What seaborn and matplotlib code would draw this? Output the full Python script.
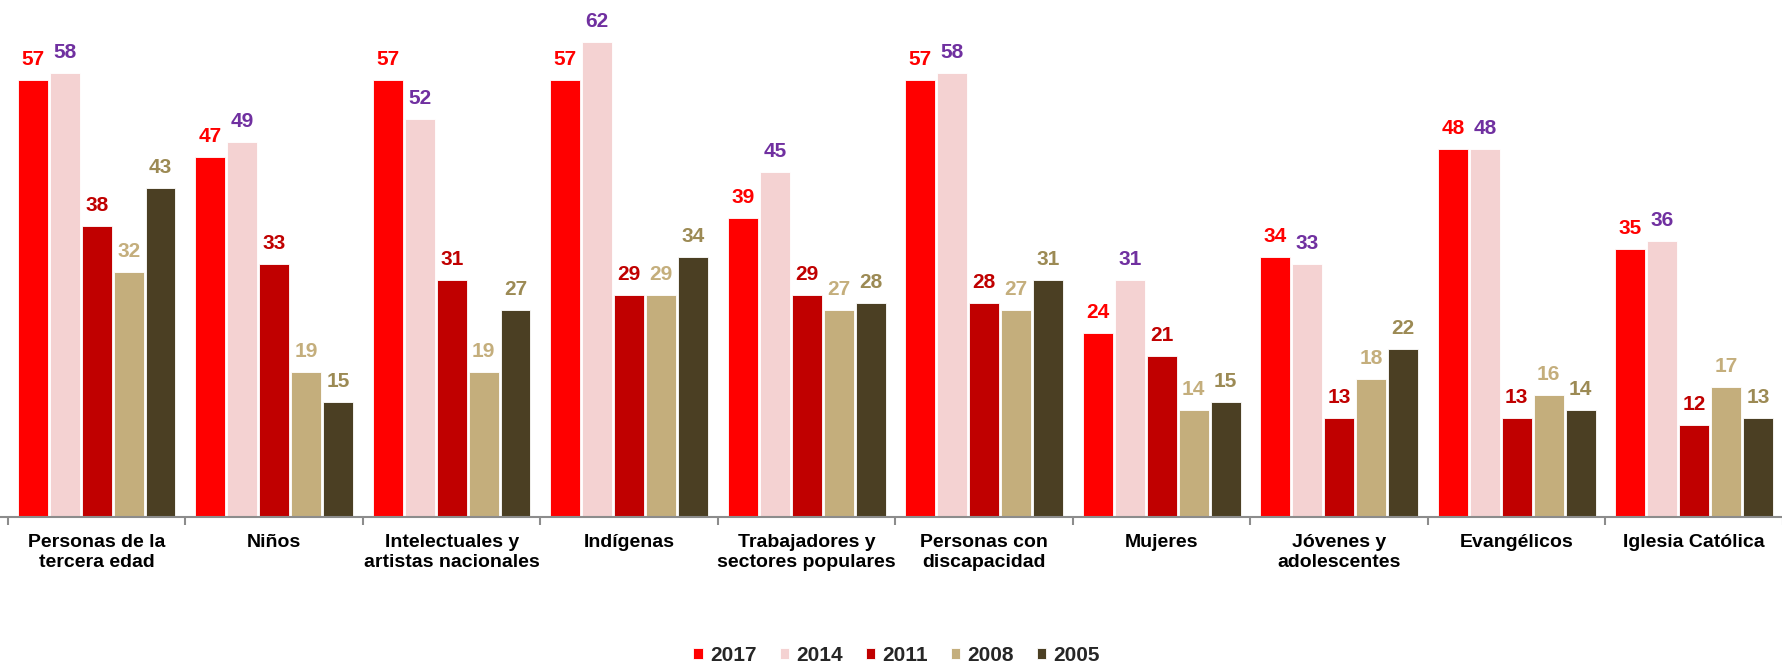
import matplotlib
matplotlib.use("Agg")
import matplotlib.pyplot as plt
import seaborn as sns
import pandas as pd
import numpy as np

# --- datos ---
categorias = [
    "Personas de la\ntercera edad",
    "Niños",
    "Intelectuales y\nartistas nacionales",
    "Indígenas",
    "Trabajadores y\nsectores populares",
    "Personas con\ndiscapacidad",
    "Mujeres",
    "Jóvenes y\nadolescentes",
    "Evangélicos",
    "Iglesia Católica",
]
anios = ["2017", "2014", "2011", "2008", "2005"]
v2017 = [57, 47, 57, 57, 39, 57, 24, 34, 48, 35]
v2014 = [58, 49, 52, 62, 45, 58, 31, 33, 48, 36]
v2011 = [38, 33, 31, 29, 29, 28, 21, 13, 13, 12]
v2008 = [32, 19, 19, 29, 27, 27, 14, 18, 16, 17]
v2005 = [43, 15, 27, 34, 28, 31, 15, 22, 14, 13]

bar_colors = ["#FF0000", "#F4D2D2", "#C00000", "#C4AE7C", "#4B3F23"]
label_colors = ["#FF0000", "#7030A0", "#C00000", "#C4AE7C", "#9C8A54"]

rows = []
for anio, vals in zip(anios, [v2017, v2014, v2011, v2008, v2005]):
    for cat, v in zip(categorias, vals):
        rows.append({"Categoria": cat, "Año": anio, "Valor": v})
df = pd.DataFrame(rows)

sns.set_theme(style="white")
plt.rcParams["font.family"] = ["Liberation Sans", "DejaVu Sans"]

fig = plt.figure(figsize=(17.83, 6.64), dpi=100)
ax = fig.add_axes([0, 0.221, 1, 0.779])

sns.barplot(
    data=df, x="Categoria", y="Valor", hue="Año", order=categorias,
    hue_order=anios, palette=bar_colors, saturation=1, width=0.9, gap=0.07,
    edgecolor="white", linewidth=0.6, ax=ax, legend=True,
)

for container, col in zip(ax.containers, label_colors):
    ax.bar_label(container, fmt="%d", padding=8, color=col,
                 fontsize=15, fontweight="bold")

ax.set_xlim(-0.545, 9.44)
ax.set_ylim(0, 67.5)
ax.set_xlabel("")
ax.set_ylabel("")
ax.set_yticks([])
for s in ["top", "right", "left"]:
    ax.spines[s].set_visible(False)
ax.spines["bottom"].set_color("#8C8C8C")
ax.spines["bottom"].set_linewidth(1.5)

ax.tick_params(axis="x", which="major", length=0, pad=12, labelsize=14,
               labelcolor="black")
for t in ax.get_xticklabels():
    t.set_fontweight("bold")
ax.set_xticks(np.arange(-0.5, 10, 1), minor=True)
ax.tick_params(axis="x", which="minor", length=6, width=1.5, color="#8C8C8C",
               direction="out", bottom=True)

handles, labels = ax.get_legend_handles_labels()
ax.get_legend().remove()
leg = fig.legend(handles, labels, loc="lower center", ncol=5, frameon=False,
                 bbox_to_anchor=(0.503, -0.03), handlelength=0.45,
                 handleheight=0.45, handletextpad=0.35, columnspacing=1.1,
                 prop={"weight": "bold", "size": 15})

fig.savefig("out.png", dpi=100)
